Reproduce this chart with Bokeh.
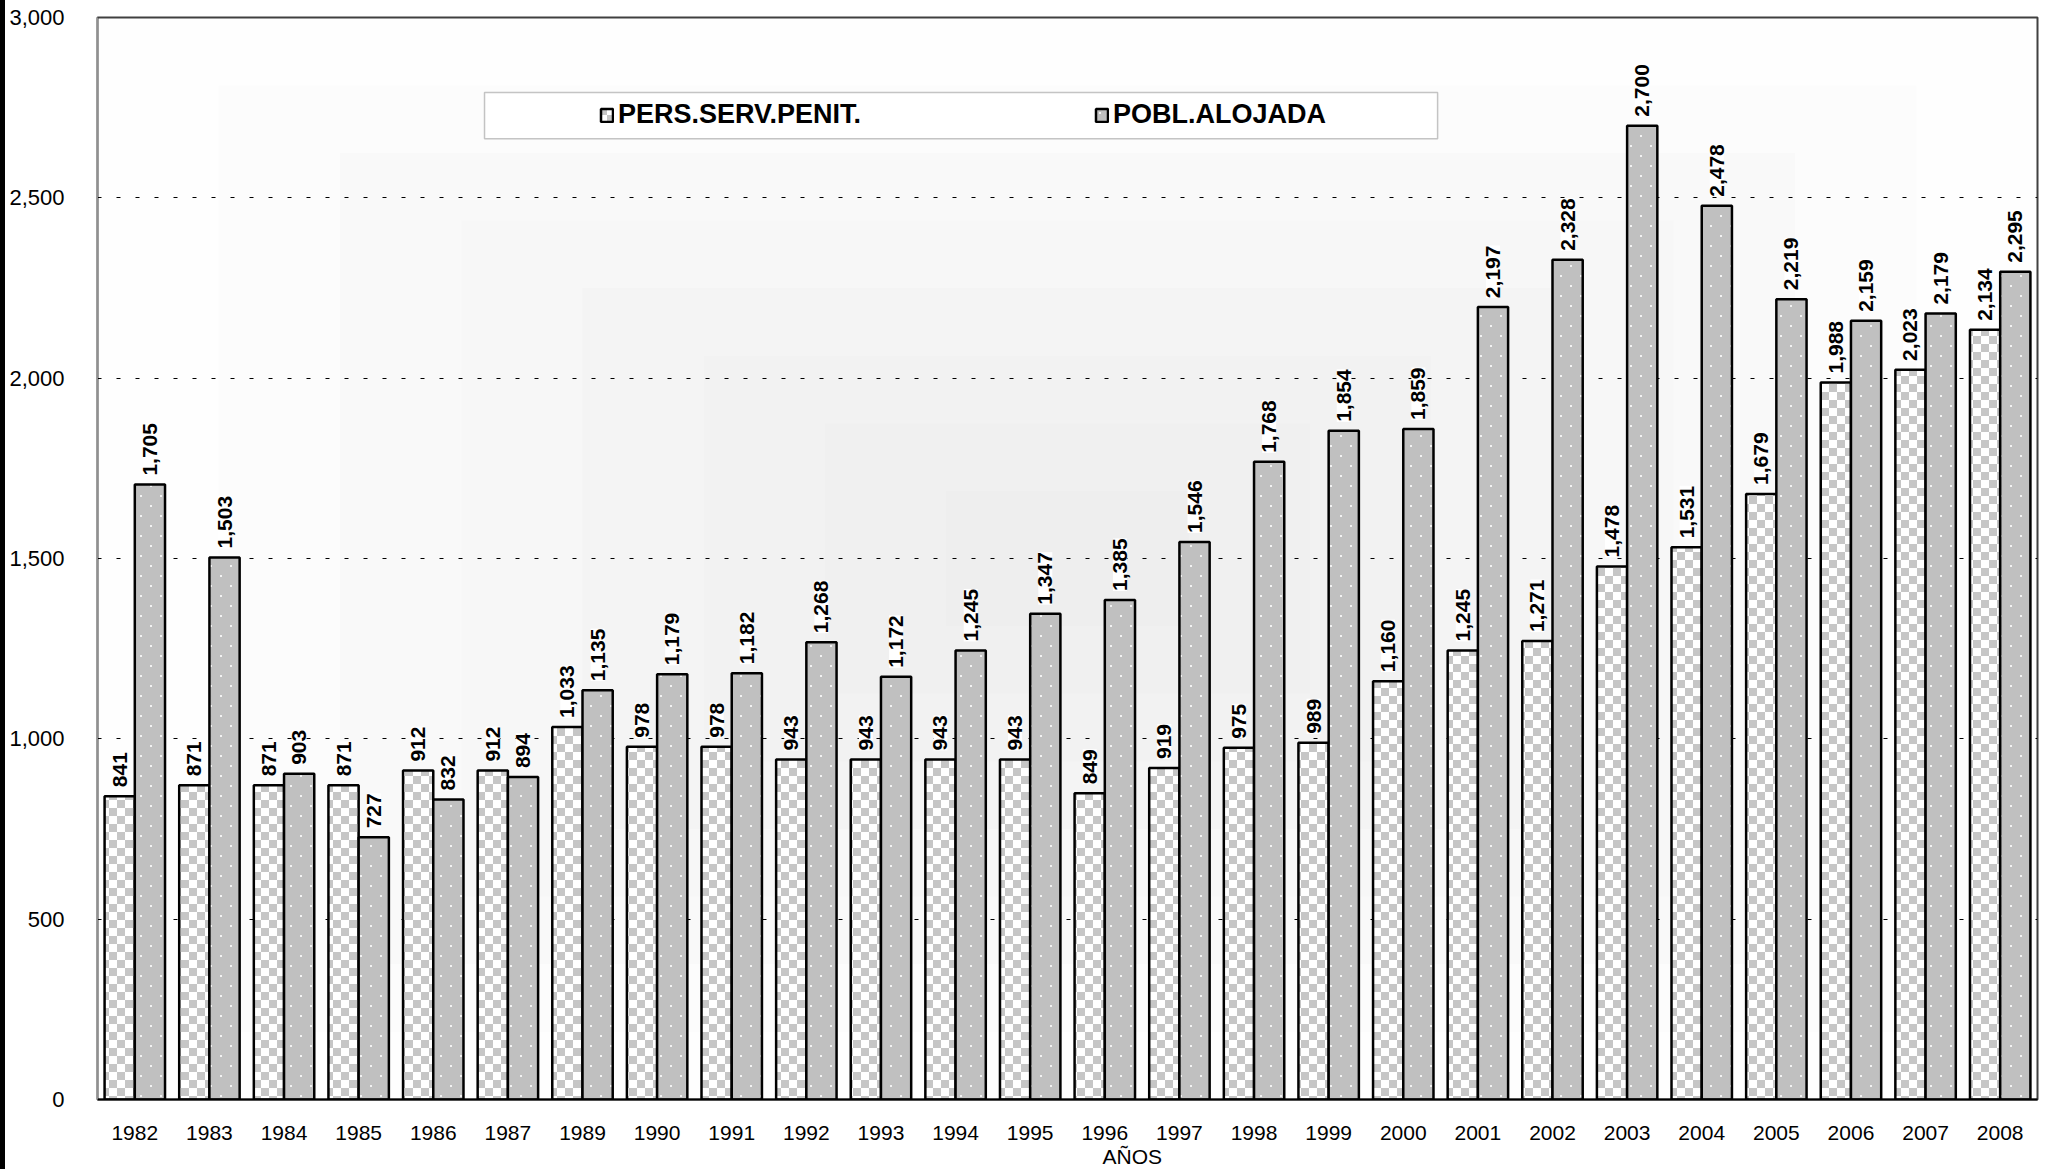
import zlib, struct, base64
from bokeh.plotting import figure
from bokeh.layouts import row
from bokeh.models import (ColumnDataSource, FactorRange, Range1d, LabelSet, Legend, LegendItem,
                          BoxAnnotation, Title, NumeralTickFormatter, FixedTicker,
                          ImageURLTexture, Div)
from bokeh.transform import dodge
from bokeh.core.properties import value
from bokeh.embed import file_html
from bokeh.resources import INLINE

# ---------------- data ----------------
years = ["1982", "1983", "1984", "1985", "1986", "1987", "1989", "1990", "1991", "1992",
         "1993", "1994", "1995", "1996", "1997", "1998", "1999", "2000", "2001", "2002",
         "2003", "2004", "2005", "2006", "2007", "2008"]
pers_serv_penit = [841, 871, 871, 871, 912, 912, 1033, 978, 978, 943,
                   943, 943, 943, 849, 919, 975, 989, 1160, 1245, 1271,
                   1478, 1531, 1679, 1988, 2023, 2134]
pobl_alojada = [1705, 1503, 903, 727, 832, 894, 1135, 1179, 1182, 1268,
                1172, 1245, 1347, 1385, 1546, 1768, 1854, 1859, 2197, 2328,
                2700, 2478, 2219, 2159, 2179, 2295]
series_names = ["PERS.SERV.PENIT.", "POBL.ALOJADA"]
y_ticks = [0, 500, 1000, 1500, 2000, 2500, 3000]
x_title = "AÑOS"

FONT = "Liberation Sans"


# ---------------- fill textures (small PNG tiles) ----------------
def png_uri(w, h, pix):
    rows = []
    for yy in range(h):
        r = bytearray([0])
        for xx in range(w):
            r.extend(pix(xx, yy))
        rows.append(bytes(r))

    def chunk(t, d):
        return struct.pack(">I", len(d)) + t + d + struct.pack(">I", zlib.crc32(t + d) & 0xffffffff)

    png = (b"\x89PNG\r\n\x1a\n"
           + chunk(b"IHDR", struct.pack(">IIBBBBB", w, h, 8, 2, 0, 0, 0))
           + chunk(b"IDAT", zlib.compress(b"".join(rows)))
           + chunk(b"IEND", b""))
    return "data:image/png;base64," + base64.b64encode(png).decode()


def checker_pix(x, y):
    return (198, 198, 198) if ((x // 8) + (y // 8)) % 2 == 0 else (255, 255, 255)


def dots_pix(x, y):
    if (x in (5, 6) and y in (5, 6)) or (x in (15, 16) and y in (15, 16)):
        return (242, 242, 242)
    return (192, 192, 192)


checker_uri = png_uri(16, 16, checker_pix)
dots_uri = png_uri(20, 20, dots_pix)

# ---------------- figure ----------------
n = len(years)
STRIP = 5
p = figure(x_range=FactorRange(factors=years, range_padding=0),
           y_range=Range1d(y_ticks[0], y_ticks[-1]),
           width=2049 - STRIP, height=1169,
           output_backend="svg", toolbar_location=None,
           min_border_left=97 - STRIP, min_border_right=12, min_border_top=17, min_border_bottom=70)

p.background_fill_color = "#fefefe"
p.border_fill_color = "white"
p.outline_line_color = "#404040"
p.outline_line_width = 2

# subtle "from center" rectangular gradient of the plot area
band_colors = ["#fefefe", "#fcfcfc", "#f9f9f9", "#f7f7f7", "#f4f4f4", "#f2f2f2", "#f0f0f0", "#eeeeee"]
ymax = y_ticks[-1]
for k in range(1, len(band_colors)):
    fx = k * n / 16.0
    fy = k * ymax / 16.0
    p.add_layout(BoxAnnotation(left=fx, right=n - fx, bottom=fy, top=ymax - fy,
                               fill_color=band_colors[k], fill_alpha=1.0,
                               line_color=None, level="image"))

src = ColumnDataSource(dict(
    year=years,
    pers=pers_serv_penit,
    pobl=pobl_alojada,
    pers_lbl=[f"{v:,}" for v in pers_serv_penit],
    pobl_lbl=[f"{v:,}" for v in pobl_alojada],
))

bw = 0.405
off = bw / 2
r1 = p.vbar(x=dodge("year", -off, range=p.x_range), top="pers", width=bw, source=src,
            fill_color="white", line_color="black", line_width=2.5,
            hatch_pattern="dot", hatch_scale=16,
            hatch_extra={"dot": ImageURLTexture(url=checker_uri)})
r2 = p.vbar(x=dodge("year", off, range=p.x_range), top="pobl", width=bw, source=src,
            fill_color="#c0c0c0", line_color="black", line_width=2.5,
            hatch_pattern="dot", hatch_scale=20,
            hatch_extra={"dot": ImageURLTexture(url=dots_uri)})

for col, lbl, dx in (("pers", "pers_lbl", -off), ("pobl", "pobl_lbl", off)):
    p.add_layout(LabelSet(x=dodge("year", dx, range=p.x_range), y=col, text=lbl, source=src,
                          angle=90, angle_units="deg", y_offset=9,
                          text_align="left", text_baseline="middle",
                          text_font=value(FONT), text_font_style="bold", text_font_size="21px",
                          text_color="black",
                          background_fill_color="white", background_fill_alpha=1.0))

# axes
p.yaxis.ticker = FixedTicker(ticks=y_ticks)
p.yaxis.formatter = NumeralTickFormatter(format="0,0")
p.yaxis.major_label_text_font = FONT
p.yaxis.major_label_text_font_size = "22px"
p.yaxis.major_label_text_color = "black"
p.yaxis.major_tick_line_color = None
p.yaxis.minor_tick_line_color = None
p.yaxis.axis_line_color = "#909090"
p.yaxis.axis_line_width = 1
p.yaxis.major_label_standoff = 27

p.xaxis.major_label_text_font = FONT
p.xaxis.major_label_text_font_size = "21px"
p.xaxis.major_label_text_color = "black"
p.xaxis.major_tick_line_color = None
p.xaxis.minor_tick_line_color = None
p.xaxis.axis_line_color = "black"
p.xaxis.axis_line_width = 2
p.xaxis.major_label_standoff = 20

p.xgrid.grid_line_color = None
p.ygrid.grid_line_color = "black"
p.ygrid.grid_line_width = 1
p.ygrid.grid_line_dash = "4 15"

# legend box (decoration)
p.add_layout(BoxAnnotation(left=5.187, right=17.96, bottom=2664, top=2792,
                           fill_color="white", fill_alpha=1.0,
                           line_color="#404040", line_width=1.5))

legend = Legend(items=[LegendItem(label=series_names[0], renderers=[r1]),
                       LegendItem(label=series_names[1], renderers=[r2])],
                location=(502, 969), orientation="horizontal",
                padding=0, margin=0, spacing=0, label_standoff=4,
                glyph_width=15, glyph_height=16, label_width=476,
                border_line_color=None, background_fill_alpha=0,
                label_text_font=FONT, label_text_font_style="bold",
                label_text_font_size="27px", label_text_color="black")
p.add_layout(legend)

p.add_layout(Title(text=x_title, align="left", offset=1005, standoff=0,
                   text_font=FONT, text_font_size="21px", text_font_style="normal",
                   text_color="black"), "below")

strip = Div(text="", width=STRIP, height=1169, margin=0, styles={"background-color": "black"})
layout = row(strip, p, spacing=0)

open("out.html", "w").write(file_html(layout, INLINE))
